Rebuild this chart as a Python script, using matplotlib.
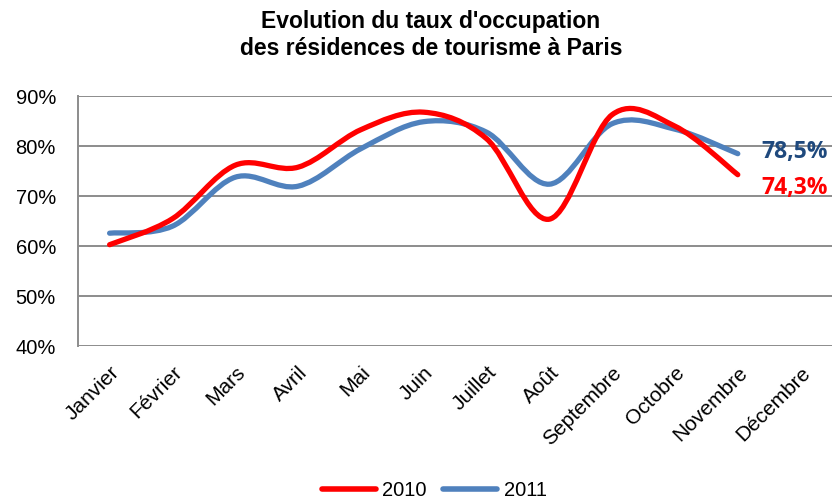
import matplotlib
matplotlib.use("Agg")
import matplotlib.pyplot as plt
from matplotlib.path import Path
from matplotlib.patches import PathPatch
from matplotlib.lines import Line2D
from matplotlib.ticker import FuncFormatter
import numpy as np

months = ["Janvier", "Février", "Mars", "Avril", "Mai", "Juin", "Juillet",
          "Août", "Septembre", "Octobre", "Novembre", "Décembre"]
taux_2010 = [60.3, 65.5, 76.2, 75.8, 83.3, 86.8, 81.5, 65.4, 86.3, 84.0, 74.3]
taux_2011 = [62.6, 64.0, 73.8, 72.0, 79.5, 84.9, 82.8, 72.4, 84.5, 83.4, 78.5]
series_labels = ["2010", "2011"]
end_labels = ["74,3%", "78,5%"]

RED = "#FF0000"
BLUE = "#4F81BD"
DARK_BLUE = "#1F497D"
GRID = "#8C8C8C"


def smooth_path(xs, ys):
    # bezier segments like Excel "smoothed line" (catmull-rom control points)
    pts = np.column_stack([xs, ys]).astype(float)
    n = len(pts)
    verts = [pts[0]]
    codes = [Path.MOVETO]
    for i in range(n - 1):
        p0 = pts[i - 1] if i > 0 else pts[i]
        p1 = pts[i]
        p2 = pts[i + 1]
        p3 = pts[i + 2] if i + 2 < n else pts[i + 1]
        c1 = p1 + (p2 - p0) / 6.0
        c2 = p2 - (p3 - p1) / 6.0
        verts += [c1, c2, p2]
        codes += [Path.CURVE4] * 3
    return Path(verts, codes)


fig = plt.figure(figsize=(8.32, 5.01), dpi=100)
ax = fig.add_axes([0.094, 0.309, 0.906, 0.499])

x = np.arange(len(taux_2010))
for vals, col in [(taux_2011, BLUE), (taux_2010, RED)]:
    patch = PathPatch(smooth_path(x, vals), facecolor="none", edgecolor=col,
                      lw=3.8, capstyle="round", joinstyle="round", zorder=3)
    ax.add_patch(patch)

ax.set_xlim(-0.5, 11.5)
ax.set_ylim(40, 90)
ax.set_yticks(range(40, 91, 10))
ax.yaxis.set_major_formatter(FuncFormatter(lambda v, p: f"{v:.0f}%"))
ax.set_xticks(range(len(months)))
ax.set_xticklabels(months, rotation=45, ha="right", va="top", rotation_mode="anchor",
                   fontsize=15, family="Liberation Sans")
ax.tick_params(axis="x", length=0, pad=12)
ax.tick_params(axis="y", length=0, pad=16, labelsize=14.5)
for lbl in ax.get_yticklabels():
    lbl.set_family("Liberation Sans")

ax.grid(axis="y", color=GRID, lw=1.4)
ax.set_axisbelow(True)
for s in ["top", "right", "bottom"]:
    ax.spines[s].set_visible(False)
ax.spines["left"].set_color(GRID)
ax.spines["left"].set_linewidth(1.4)

# labels at the end of each series
ax.text(10.38, 78.8, end_labels[1], color=DARK_BLUE, fontsize=16.5,
        fontweight="bold", va="center", ha="left", family="Open Sans")
ax.text(10.38, 71.6, end_labels[0], color=RED, fontsize=16.5,
        fontweight="bold", va="center", ha="left", family="Open Sans")

fig.text(0.518, 0.98, "Evolution du taux d'occupation\ndes résidences de tourisme à Paris",
         ha="center", va="top", fontsize=16.5, fontweight="bold",
         family="Liberation Sans", linespacing=1.22)

handles = [Line2D([], [], color=RED, lw=4, solid_capstyle="round"),
           Line2D([], [], color=BLUE, lw=4, solid_capstyle="round")]
fig.legend(handles, series_labels, loc="lower center", bbox_to_anchor=(0.522, -0.035),
           ncol=2, frameon=False, handlelength=2.7, columnspacing=0.8,
           handletextpad=0.3, prop={"family": "Liberation Sans", "size": 14.5})

fig.savefig("out.png", dpi=100)
